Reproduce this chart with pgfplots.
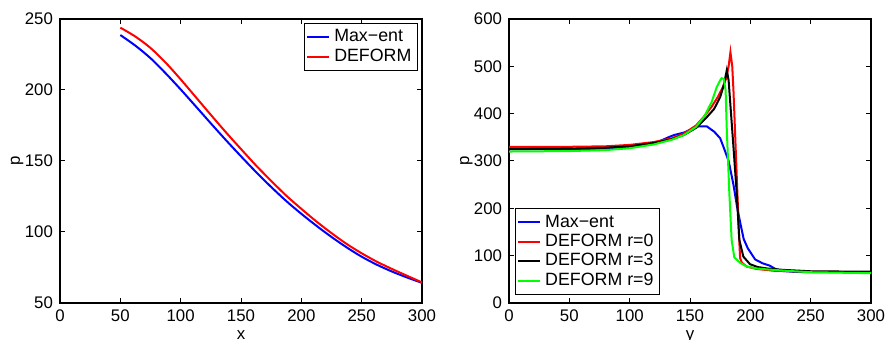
\documentclass[border=0pt]{standalone}
\usepackage{fontspec}
\setmainfont{Liberation Sans}
\usepackage{pgfplots}
\pgfplotsset{compat=1.18}
\definecolor{mblue}{RGB}{0,0,255}
\definecolor{mred}{RGB}{255,0,0}
\definecolor{mgreen}{RGB}{0,255,0}
\pgfplotsset{
  mystyle/.style={
    scale only axis, width=181pt, height=142pt, anchor=south west,
    tick align=inside, xtick pos=both, ytick pos=both,
    xticklabel pos=lower, yticklabel pos=left,
    major tick length=2.5pt,
    every tick/.style={black, line width=0.5pt},
    axis line style={line width=0.6pt},
    /pgf/number format/assume math mode=true,
    ticklabel style={font=\fontsize{8.4}{10}\selectfont},
    label style={font=\fontsize{8.4}{10}\selectfont},
    xlabel style={at={(axis description cs:0.5,-0.1268)}, anchor=base},
    ylabel style={at={(axis description cs:-0.1105,0.5)}, anchor=base, rotate=0},
    legend style={draw=black, line width=0.6pt, fill=white, font=\fontsize{8.9}{10.5}\selectfont,
      inner sep=1pt, row sep=-2pt},
    legend cell align=left,
    legend image code/.code={\draw[#1] (0pt,0pt) -- (11pt,0pt);},
    every axis plot/.append style={line width=1pt},
  }
}
\begin{document}
\begin{tikzpicture}[x=1pt,y=1pt]
\path[use as bounding box] (0,0) rectangle (444,170);
\begin{axis}[mystyle, at={(30pt,18.5pt)},
  xmin=0, xmax=300, ymin=50, ymax=250,
  xtick={0,50,...,300}, ytick={50,100,...,250},
  xlabel={x}, ylabel={p},
  legend style={at={(1,1)}, anchor=north east, xshift=-2pt, yshift=-2pt}]
\addplot[mblue, smooth] coordinates {(50,238.7) (62.5,231.2) (75,222.4) (87.5,211.8) (100,200.4) (112.5,188.5) (125,176.5) (137.5,164.7) (150,153.3) (162.5,142.2) (175,131.7) (187.5,121.8) (200,112.8) (212.5,104.4) (225,96.5) (237.5,89.2) (250,82.6) (262.5,77) (275,72.2) (287.5,68) (300,64.2)};
\addplot[mred, smooth] coordinates {(50,243.9) (62.5,237.6) (75,229.6) (87.5,219.3) (100,207.5) (112.5,195) (125,182.5) (137.5,170.2) (150,158.4) (162.5,146.8) (175,136) (187.5,125.6) (200,116.3) (212.5,107.4) (225,99.2) (237.5,91.6) (250,85) (262.5,79.1) (275,74) (287.5,69.2) (300,64.5)};
\legend{Max−ent, DEFORM}
\end{axis}
\begin{axis}[mystyle, at={(254.5pt,18.5pt)},
  xmin=0, xmax=300, ymin=0, ymax=600,
  xtick={0,50,...,300}, ytick={0,100,...,600},
  xlabel={y}, ylabel={p},
  legend style={at={(0,0)}, anchor=south west, xshift=2.8pt, yshift=4pt}]
\addplot[mblue] coordinates {(0,325) (25,325) (50,325) (75,326) (100,330) (115,335) (125,342) (132,350) (137,355) (145,360) (152,368) (157,373) (164,373) (170,362) (175,348) (178,328) (182,300) (186,250) (189,203) (192,165) (194.5,135) (198,115) (204,92) (210,84) (216,79) (220,73) (225,68) (235,66) (250,65) (275,65) (300,64)};
\addplot[mred] coordinates {(0,330) (50,330) (80,331) (100,334) (120,340) (135,348) (145,358) (155,375) (162,395) (168,415) (173,435) (177,455) (180,475) (182,500) (183.5,530) (185,500) (186,450) (187.5,350) (189,250) (190.5,150) (191.5,95) (193,85) (197,77) (205,72) (220,68) (250,66) (300,65)};
\addplot[black] coordinates {(0,325) (50,326) (80,328) (100,331) (120,338) (135,346) (145,355) (155,370) (163,390) (170,410) (175,435) (178,460) (180.5,492) (182,470) (184,400) (186,330) (188.7,232) (190.9,133) (194.2,98) (199.7,82) (206,76) (213.6,73) (227,70) (250,67) (300,66)};
\addplot[mgreen] coordinates {(0,320) (50,321) (80,323) (100,327) (120,335) (135,345) (145,355) (155,372) (162,395) (168,425) (172,455) (174.9,470) (176.2,475) (178,473) (179.5,450) (180.4,372) (182.6,232) (184.5,133) (186.7,96.5) (191.4,85) (197,77) (205,73) (213.6,71) (230,68) (250,65) (300,63)};
\legend{Max−ent, DEFORM r=0, DEFORM r=3, DEFORM r=9}
\end{axis}
\end{tikzpicture}
\end{document}
